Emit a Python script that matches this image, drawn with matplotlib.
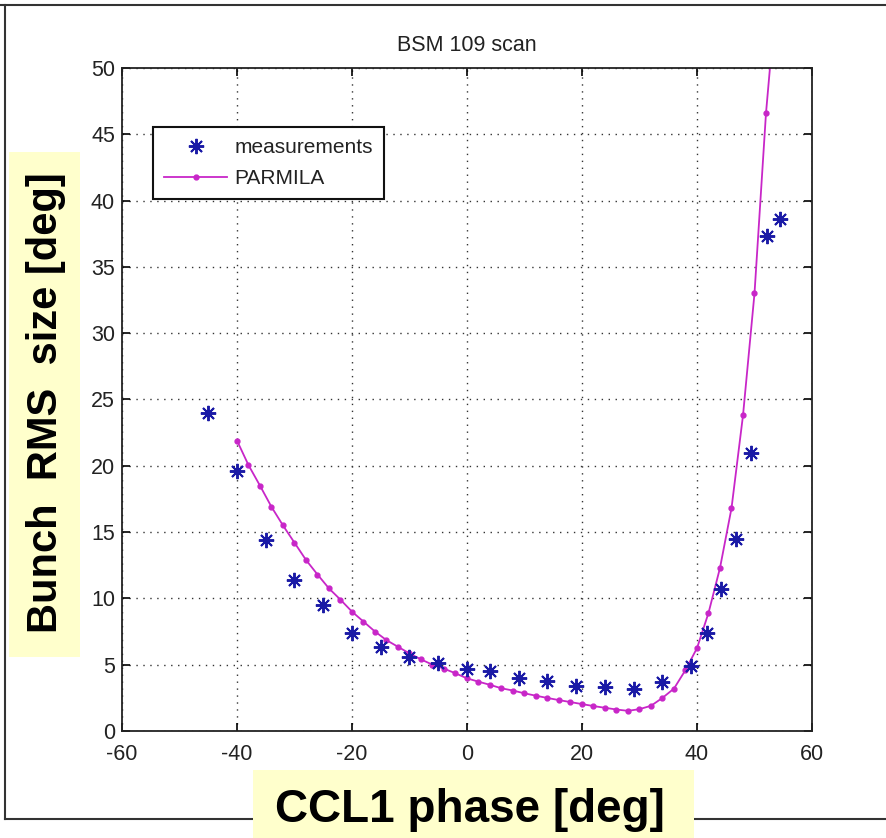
import matplotlib
matplotlib.use("Agg")
import matplotlib.pyplot as plt
from matplotlib.lines import Line2D
from matplotlib.patches import Rectangle

# measured bunch size (blue asterisks)
meas_phase = [-45, -40, -35, -30, -25, -20, -15, -10, -5, 0, 4, 9, 14, 19, 24, 29, 34, 39,
              41.7, 44.2, 46.7, 49.4, 52.1, 54.5]
meas_size = [24.0, 19.6, 14.4, 11.4, 9.5, 7.4, 6.3, 5.6, 5.1, 4.7, 4.5, 4.0, 3.8, 3.4, 3.3, 3.2, 3.7, 4.9,
             7.4, 10.7, 14.5, 21.0, 37.3, 38.6]

# PARMILA simulation (magenta line)
sim_phase = list(range(-40, 56, 2))
sim_size = [21.9, 20.05, 18.5, 16.9, 15.5, 14.2, 12.9, 11.8, 10.75, 9.9,
            9.0, 8.25, 7.5, 6.85, 6.35, 5.85, 5.4, 5.0, 4.7, 4.35,
            3.97, 3.72, 3.48, 3.22, 3.05, 2.84, 2.66, 2.49, 2.33, 2.18,
            2.03, 1.88, 1.75, 1.62, 1.52, 1.65, 1.9, 2.5, 3.2, 4.6,
            6.25, 8.9, 12.3, 16.8, 23.8, 33.0, 46.6, 56.5]

xticks = [-60, -40, -20, 0, 20, 40, 60]
yticks = [0, 5, 10, 15, 20, 25, 30, 35, 40, 45, 50]

plt.rcParams['axes.unicode_minus'] = False
plt.rcParams['font.family'] = ['Liberation Sans', 'DejaVu Sans']

W, H = 887, 838
fig = plt.figure(figsize=(W / 100, H / 100), dpi=100)
ax = fig.add_axes([122 / W, 1 - 731 / H, 690 / W, 663 / H])

ax.plot(meas_phase, meas_size, linestyle='none', marker=(8, 2, 0), color='#1a1aa6',
        markersize=11, markeredgewidth=1.4, label='measurements', zorder=3)
ax.plot(sim_phase, sim_size, '-', color='#c826c8', marker='.', markersize=7,
        linewidth=1.3, label='PARMILA', zorder=2)

ax.set_xlim(-60, 60)
ax.set_ylim(0, 50)
ax.set_xticks(xticks)
ax.set_yticks(yticks)
ax.set_xticklabels([str(t) for t in xticks], fontsize=15.5, color='#222222')
ax.set_yticklabels([str(t) for t in yticks], fontsize=15.5, color='#222222')
ax.tick_params(direction='in', length=6, width=1.2, top=True, right=True)
ax.tick_params(axis='x', pad=9)
ax.tick_params(axis='y', pad=5)
ax.grid(True, color='#333333', linestyle=(0, (1, 4)), linewidth=1.0)
for s in ax.spines.values():
    s.set_linewidth(1.3)
    s.set_color('#222222')

ax.set_title('BSM 109 scan', fontsize=15.5, color='#222222', pad=12)

leg = ax.legend(loc='upper left', bbox_to_anchor=(31 / 690, 604 / 663), borderaxespad=0,
                prop={'size': 15}, fancybox=False, framealpha=1,
                edgecolor='#111111', handlelength=3.0, handletextpad=0.35,
                labelspacing=0.55, borderpad=0.55)
leg.get_frame().set_linewidth(1.5)
for t in leg.get_texts():
    t.set_color('#222222')

# slide frame lines
frame_kw = dict(transform=fig.transFigure, color='#333333', linewidth=1.5)
fig.add_artist(Line2D([0, 1], [1 - 5 / H, 1 - 5 / H], **frame_kw))
fig.add_artist(Line2D([5 / W, 5 / W], [1 - 5 / H, 1 - 819 / H], **frame_kw))
fig.add_artist(Line2D([5 / W, 1], [1 - 819 / H, 1 - 819 / H], **frame_kw))

# yellow highlighted axis labels
yellow = '#ffffcc'
fig.add_artist(Rectangle((9 / W, 1 - 657 / H), 71 / W, 505 / H, transform=fig.transFigure,
                         facecolor=yellow, edgecolor='none', zorder=5))
fig.text(46 / W, 1 - 403 / H, 'Bunch  RMS  size [deg]', rotation=90, ha='center', va='center',
         fontsize=30, fontweight='bold', color='black', zorder=6)

fig.add_artist(Rectangle((253 / W, 0), 441 / W, 68 / H, transform=fig.transFigure,
                         facecolor=yellow, edgecolor='none', zorder=5))
fig.text(470 / W, 1 - 822 / H, 'CCL1 phase [deg]', ha='center', va='baseline',
         fontsize=33, fontweight='bold', color='black', zorder=6)

fig.savefig('out.png', dpi=100)
